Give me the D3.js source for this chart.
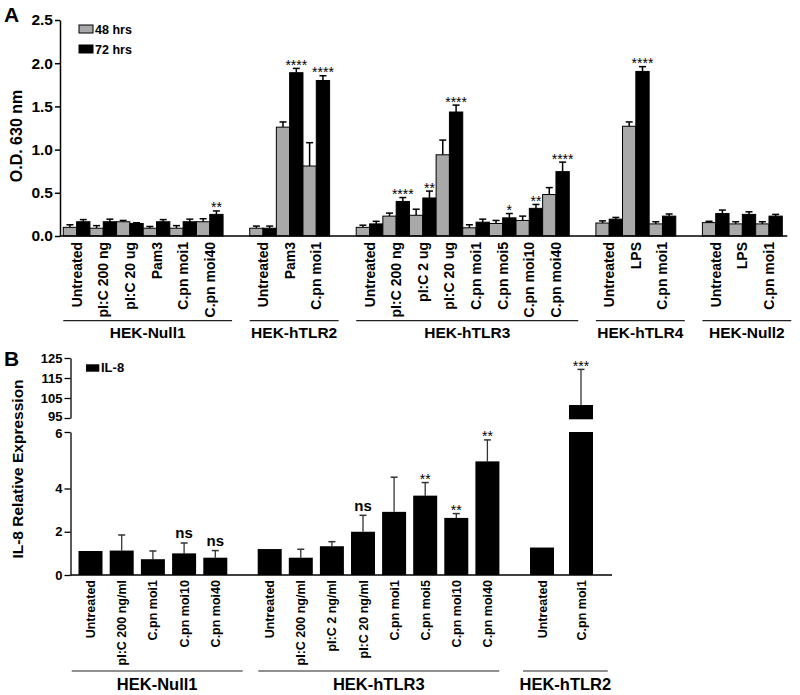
<!DOCTYPE html>
<html><head><meta charset="utf-8">
<script src="https://cdn.jsdelivr.net/npm/d3@7"></script>
<style>
body{margin:0;background:#fff}
text{font-family:"Liberation Sans",Arial,Helvetica,sans-serif;font-weight:bold;fill:#000}
</style>
</head><body>
<svg id="c" width="800" height="695"></svg>
<script>
// ---------- Panel A data ----------
const groupsA = ["HEK-Null1","HEK-hTLR2","HEK-hTLR3","HEK-hTLR4","HEK-Null2"];
const groupOfA = ["HEK-Null1","HEK-Null1","HEK-Null1","HEK-Null1","HEK-Null1","HEK-Null1",
  "HEK-hTLR2","HEK-hTLR2","HEK-hTLR2",
  "HEK-hTLR3","HEK-hTLR3","HEK-hTLR3","HEK-hTLR3","HEK-hTLR3","HEK-hTLR3","HEK-hTLR3","HEK-hTLR3",
  "HEK-hTLR4","HEK-hTLR4","HEK-hTLR4",
  "HEK-Null2","HEK-Null2","HEK-Null2"];
const categoriesA = ["Untreated","pI:C 200 ng","pI:C 20 ug","Pam3","C.pn moi1","C.pn moi40",
  "Untreated","Pam3","C.pn moi1",
  "Untreated","pI:C 200 ng","pI:C 2 ug","pI:C 20 ug","C.pn moi1","C.pn moi5","C.pn moi10","C.pn moi40",
  "Untreated","LPS","C.pn moi1",
  "Untreated","LPS","C.pn moi1"];
const hrs48 =    [0.10,0.09,0.165,0.09,0.09,0.165, 0.09,1.26,0.81, 0.10,0.23,0.24,0.94,0.095,0.145,0.18,0.48, 0.15,1.27,0.14, 0.155,0.14,0.14];
const hrs48Err = [0.03,0.03,0.015,0.02,0.03,0.035, 0.025,0.06,0.27, 0.025,0.035,0.07,0.17,0.035,0.035,0.05,0.08, 0.025,0.05,0.025, 0.015,0.025,0.025];
const hrs72 =    [0.165,0.165,0.145,0.165,0.165,0.25, 0.09,1.89,1.80, 0.14,0.40,0.44,1.435,0.16,0.21,0.32,0.745, 0.195,1.905,0.23, 0.26,0.25,0.23];
const hrs72Err = [0.025,0.03,0.008,0.025,0.03,0.04, 0.025,0.05,0.055, 0.03,0.045,0.08,0.08,0.035,0.05,0.045,0.11, 0.02,0.055,0.025, 0.04,0.03,0.02];
const sig72 =    ["","","","","","**", "","****","****", "","****","**","****","","*","**","****", "","****","", "","",""];
const ticksA = [0,0.5,1.0,1.5,2.0,2.5];
const seriesA = ["48 hrs","72 hrs"];

// ---------- Panel B data ----------
const groupsB = ["HEK-Null1","HEK-hTLR3","HEK-hTLR2"];
const groupOfB = ["HEK-Null1","HEK-Null1","HEK-Null1","HEK-Null1","HEK-Null1",
  "HEK-hTLR3","HEK-hTLR3","HEK-hTLR3","HEK-hTLR3","HEK-hTLR3","HEK-hTLR3","HEK-hTLR3","HEK-hTLR3",
  "HEK-hTLR2","HEK-hTLR2"];
const categoriesB = ["Untreated","pI:C 200 ng/ml","C.pn moi1","C.pn moi10","C.pn moi40",
  "Untreated","pI:C 200 ng/ml","pI:C 2 ng/ml","pI:C 20 ng/ml","C.pn moi1","C.pn moi5","C.pn moi10","C.pn moi40",
  "Untreated","C.pn moi1"];
const il8 =    [1.11,1.13,0.73,1.0,0.8, 1.2,0.8,1.33,2.0,2.92,3.67,2.64,4.96, 1.27,101.5];
const il8Err = [0,0.72,0.38,0.48,0.33, 0,0.39,0.21,0.76,1.48,0.54,0.2,0.76, 0,17.8];
const sigB =   ["","","","ns","ns", "","","","ns","","**","**","**", "","***"];
const ticksBLow = [0,2,4,6];
const ticksBHigh = [95,105,115,125];

const svg = d3.select("#c");
const GRAY = "#a9a9a9";

// ================= PANEL A =================
const yA = d3.scaleLinear().domain([0,2.5]).range([236,20]);
const slotA = d3.scaleLinear().domain([0,54]).range([63.3,782.3]);
const slotW = slotA(1)-slotA(0);
const slotIdx = [];
const groupSpanA = {};
{
  let s = 0, prev = null;
  categoriesA.forEach((c,i)=>{
    const g = groupOfA[i];
    if(prev!==null && g!==prev){ s += 2; }
    if(!groupSpanA[g]) groupSpanA[g] = {start:s,end:s};
    slotIdx.push(s);
    s += 2;
    groupSpanA[g].end = s;
    prev = g;
  });
}
const gA = svg.append("g");
const barsA = [];
categoriesA.forEach((c,i)=>{
  barsA.push({x:slotA(slotIdx[i]), v:hrs48[i], e:hrs48Err[i], fill:GRAY, sig:""});
  barsA.push({x:slotA(slotIdx[i]+1), v:hrs72[i], e:hrs72Err[i], fill:"#000", sig:sig72[i]});
});
gA.selectAll("line.errA").data(barsA).join("line")
  .attr("x1",d=>d.x+slotW/2).attr("x2",d=>d.x+slotW/2)
  .attr("y1",d=>yA(d.v)).attr("y2",d=>yA(d.v+d.e))
  .attr("stroke","#000").attr("stroke-width",1.5);
gA.selectAll("line.capA").data(barsA).join("line")
  .attr("x1",d=>d.x+slotW/2-3.5).attr("x2",d=>d.x+slotW/2+3.5)
  .attr("y1",d=>yA(d.v+d.e)).attr("y2",d=>yA(d.v+d.e))
  .attr("stroke","#000").attr("stroke-width",1.5);
gA.selectAll("rect.barA").data(barsA).join("rect")
  .attr("x",d=>d.x).attr("width",slotW)
  .attr("y",d=>yA(d.v)).attr("height",d=>yA(0)-yA(d.v))
  .attr("fill",d=>d.fill).attr("stroke","#000").attr("stroke-width",1);
gA.selectAll("text.sigA").data(barsA.filter(d=>d.sig)).join("text")
  .attr("x",d=>d.x+slotW/2).attr("y",d=>yA(d.v+d.e)+1.5)
  .attr("text-anchor","middle").style("font-size","14px").style("font-weight","normal")
  .text(d=>d.sig);
const axA = gA.append("g").attr("transform","translate(60,0)")
  .call(d3.axisLeft(yA).tickValues(ticksA).tickFormat(d3.format(".1f")).tickSize(5).tickSizeOuter(0).tickPadding(2));
axA.select(".domain").attr("stroke-width",1.5);
axA.selectAll(".tick line").attr("stroke-width",1.5);
axA.selectAll(".tick text").style("font-size","15.5px").attr("font-family",null);
gA.append("line").attr("x1",60).attr("x2",slotA(54)+5).attr("y1",yA(0)).attr("y2",yA(0))
  .attr("stroke","#000").attr("stroke-width",1.5);
gA.append("text").attr("transform","translate(22,136) rotate(-90)").attr("text-anchor","middle")
  .style("font-size","16px").text("O.D. 630 nm");
svg.append("text").attr("x",4).attr("y",22).style("font-size","21px").text("A");
seriesA.forEach((s,i)=>{
  gA.append("rect").attr("x",79).attr("y",25+i*20).attr("width",14).attr("height",8)
    .attr("fill",i===0?GRAY:"#000").attr("stroke","#000").attr("stroke-width",1);
  gA.append("text").attr("x",95).attr("y",33.5+i*20).style("font-size","12.5px").text(s);
});
categoriesA.forEach((c,i)=>{
  const x = slotA(slotIdx[i]+1);
  gA.append("text").attr("transform",`translate(${x+5},242) rotate(-90)`)
    .attr("text-anchor","end").style("font-size","14px").text(c);
});
groupsA.forEach(g=>{
  const sp = groupSpanA[g];
  const x1 = slotA(sp.start), x2 = slotA(sp.end)+9;
  gA.append("line").attr("x1",x1).attr("x2",x2).attr("y1",320.7).attr("y2",320.7)
    .attr("stroke","#222").attr("stroke-width",1.2);
  gA.append("text").attr("x",(x1+x2)/2).attr("y",338).attr("text-anchor","middle")
    .style("font-size","15.5px").text(g);
});

// ================= PANEL B =================
const yB = d3.scaleLinear().domain([0,4,6]).range([575,488.5,432]);
const yBu = d3.scaleLinear().domain([95,125]).range([418,358]);
const layoutB = {
  "HEK-Null1":{c0:90.5,p:31.2,l:18.8,r:27.4},
  "HEK-hTLR3":{c0:269.7,p:31.1,l:11.4,r:11.8},
  "HEK-hTLR2":{c0:542,p:39,l:19,r:26.7}};
const barWB = 24;
const gB = svg.append("g");
const posB = [];
{
  const counter = {};
  categoriesB.forEach((c,i)=>{
    const g = groupOfB[i];
    counter[g] = (counter[g]||0);
    posB.push(layoutB[g].c0 + counter[g]*layoutB[g].p);
    counter[g]++;
  });
}
const barsB = categoriesB.map((c,i)=>({cx:posB[i], v:il8[i], e:il8Err[i], sig:sigB[i]}));
const errTopY = d=> (d.v+d.e>6 ? yBu(d.v+d.e) : yB(d.v+d.e));
const valTopY = d=> (d.v>6 ? yBu(d.v) : yB(d.v));
gB.selectAll("line.errB").data(barsB.filter(d=>d.e>0)).join("line")
  .attr("x1",d=>d.cx).attr("x2",d=>d.cx).attr("y1",valTopY).attr("y2",errTopY)
  .attr("stroke","#333").attr("stroke-width",1.3);
gB.selectAll("line.capB").data(barsB.filter(d=>d.e>0)).join("line")
  .attr("x1",d=>d.cx-3.5).attr("x2",d=>d.cx+3.5).attr("y1",errTopY).attr("y2",errTopY)
  .attr("stroke","#333").attr("stroke-width",1.5);
gB.selectAll("rect.barB").data(barsB).join("rect")
  .attr("x",d=>d.cx-barWB/2).attr("width",barWB)
  .attr("y",d=>yB(Math.min(d.v,6))).attr("height",d=>yB(0)-yB(Math.min(d.v,6)))
  .attr("fill","#000");
gB.selectAll("rect.barBu").data(barsB.filter(d=>d.v>95)).join("rect")
  .attr("x",d=>d.cx-barWB/2).attr("width",barWB)
  .attr("y",d=>yBu(d.v)).attr("height",d=>yBu(95)+1.3-yBu(d.v))
  .attr("fill","#000");
gB.selectAll("text.sigB").data(barsB.filter(d=>d.sig)).join("text")
  .attr("x",d=>d.cx).attr("y",d=> d.sig==="ns" ? errTopY(d)-4.5 : errTopY(d)+1.5)
  .attr("text-anchor","middle")
  .style("font-size",d=>d.sig==="ns"?"15px":"14px")
  .style("font-weight",d=>d.sig==="ns"?"bold":"normal")
  .text(d=>d.sig);
const axBl = gB.append("g").attr("transform","translate(70.5,0)")
  .call(d3.axisLeft(yB).tickValues(ticksBLow).tickFormat(d3.format("d")).tickSize(6).tickSizeOuter(0).tickPadding(2));
const axBu = gB.append("g").attr("transform","translate(70.5,0)")
  .call(d3.axisLeft(yBu).tickValues(ticksBHigh).tickFormat(d3.format("d")).tickSize(6).tickSizeOuter(0).tickPadding(2));
[axBl,axBu].forEach(a=>{
  a.select(".domain").attr("stroke-width",1.3);
  a.selectAll(".tick line").attr("stroke-width",1.3);
  a.selectAll(".tick text").style("font-size","13px").attr("font-family",null);
});
axBu.selectAll(".tick text").filter(d=>d===95).attr("dy","0.2em");
axBl.selectAll(".tick text").filter(d=>d===6).attr("dy","0.42em");
gB.append("line").attr("x1",70.5).attr("x2",612).attr("y1",yB(0)).attr("y2",yB(0))
  .attr("stroke","#000").attr("stroke-width",1.3);
gB.append("text").attr("transform","translate(22.5,469) rotate(-90)").attr("text-anchor","middle")
  .style("font-size","15.5px").text("IL-8 Relative Expression");
svg.append("text").attr("x",4).attr("y",366).style("font-size","21px").text("B");
gB.append("rect").attr("x",86).attr("y",364.3).attr("width",13.3).attr("height",7.4).attr("fill","#000");
gB.append("text").attr("x",101).attr("y",372).style("font-size","13px").text("IL-8");
categoriesB.forEach((c,i)=>{
  gB.append("text").attr("transform",`translate(${posB[i]+4.5},580) rotate(-90)`)
    .attr("text-anchor","end").style("font-size","12.5px").text(c);
});
groupsB.forEach(g=>{
  const idx = groupOfB.map((d,i)=>d===g?i:-1).filter(i=>i>=0);
  const L = layoutB[g];
  const x1 = posB[idx[0]]-L.l, x2 = posB[idx[idx.length-1]]+L.r;
  gB.append("line").attr("x1",x1).attr("x2",x2).attr("y1",671).attr("y2",671)
    .attr("stroke","#222").attr("stroke-width",1.2);
  gB.append("text").attr("x",(x1+x2)/2).attr("y",690).attr("text-anchor","middle")
    .style("font-size","16.5px").text(g);
});
</script>
</body></html>
